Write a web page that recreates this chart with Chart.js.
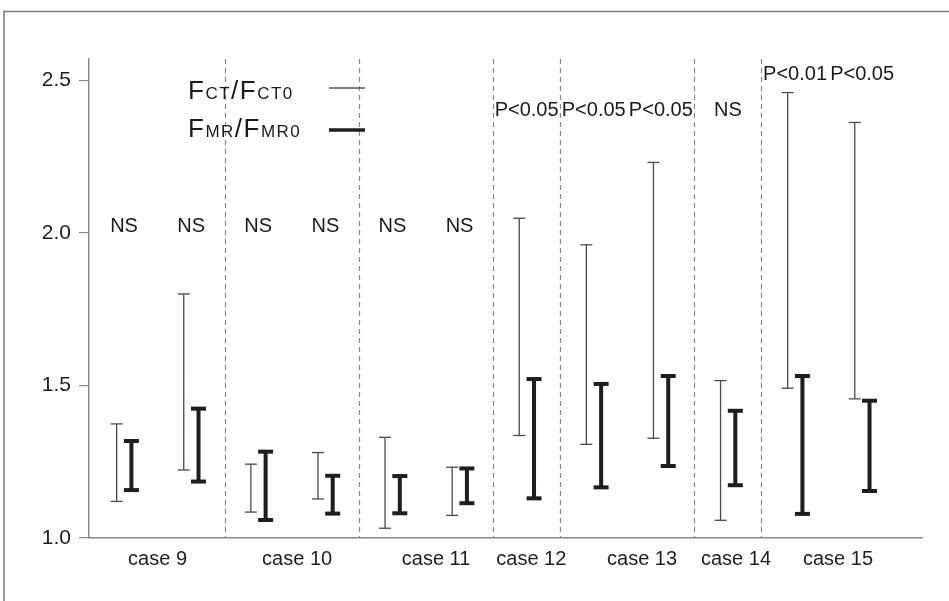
<!DOCTYPE html>
<html>
<head>
<meta charset="utf-8">
<script src="https://cdn.jsdelivr.net/npm/chart.js@4"></script>
<style>
  html, body { margin: 0; padding: 0; background: #fff; }
  #wrap { width: 949px; height: 601px; }
</style>
</head>
<body>
<div id="wrap"><canvas id="myChart" width="949" height="601"></canvas></div>
<script>
// data
const cases = ['case 9', 'case 10', 'case 11', 'case 12', 'case 13', 'case 14', 'case 15'];
const pairsPerCase = [2, 2, 2, 1, 2, 1, 2];

// FCT/FCT0 (thin bars)
const ctLow  = [1.12, 1.223, 1.085, 1.128, 1.032, 1.074, 1.336, 1.307, 1.327, 1.058, 1.491, 1.456];
const ctHigh = [1.374, 1.80, 1.242, 1.280, 1.330, 1.232, 2.048, 1.961, 2.231, 1.516, 2.460, 2.362];
// FMR/FMR0 (thick bars)
const mrLow  = [1.157, 1.185, 1.059, 1.080, 1.081, 1.114, 1.130, 1.166, 1.236, 1.173, 1.079, 1.154];
const mrHigh = [1.318, 1.424, 1.283, 1.204, 1.203, 1.228, 1.521, 1.505, 1.531, 1.417, 1.531, 1.450];

const sigLabels = ['NS', 'NS', 'NS', 'NS', 'NS', 'NS', 'P<0.05', 'P<0.05', 'P<0.05', 'NS', 'P<0.01', 'P<0.05'];
const yTicks = [1.0, 1.5, 2.0, 2.5];

// layout bits (not data)
const FONT = "'Liberation Sans', Arial, sans-serif";
const sigRowY = [2.02, 2.02, 2.02, 2.02, 2.02, 2.02, 2.40, 2.40, 2.40, 2.40, 2.52, 2.52];
const caseLabelAt = [0.5, 2.58, 4.65, 6.07, 7.72, 9.12, 10.64];
const pairShift = 0.11;

function barPoints(lows, highs, shift) {
  const pts = [];
  lows.forEach((lo, i) => {
    const x = i + shift;
    pts.push({x: x, y: lo}, {x: x, y: highs[i]}, {x: x, y: null});
  });
  return pts;
}

// where the dashed separators go (between cases)
const separators = [];
let slot = 0;
pairsPerCase.forEach((n, c) => {
  slot += n;
  if (c < pairsPerCase.length - 1) separators.push(slot - 0.5);
});

const extras = {
  id: 'extras',
  beforeDatasetsDraw(chart) {
    const ctx = chart.ctx;
    const x = chart.scales.x;
    ctx.save();
    // frame
    ctx.strokeStyle = '#7a7a7a';
    ctx.lineWidth = 1.5;
    ctx.beginPath();
    ctx.moveTo(4, 601);
    ctx.lineTo(4, 11.5);
    ctx.lineTo(949, 11.5);
    ctx.stroke();
    // separators
    ctx.strokeStyle = '#8a8a8a';
    ctx.lineWidth = 1.2;
    ctx.setLineDash([5, 4]);
    separators.forEach(s => {
      const px = Math.round(x.getPixelForValue(s)) + 0.5;
      ctx.beginPath();
      ctx.moveTo(px, chart.chartArea.top);
      ctx.lineTo(px, chart.chartArea.bottom);
      ctx.stroke();
    });
    ctx.restore();
  },
  afterDraw(chart) {
    const ctx = chart.ctx;
    const x = chart.scales.x, y = chart.scales.y;
    ctx.save();
    // significance labels
    ctx.fillStyle = '#1a1a1a';
    ctx.font = '20px ' + FONT;
    ctx.textAlign = 'center';
    ctx.textBaseline = 'middle';
    sigLabels.forEach((t, i) => {
      ctx.fillText(t, x.getPixelForValue(i), y.getPixelForValue(sigRowY[i]));
    });

    // legend
    const rows = [
      {parts: [['F', 1], ['CT', 0], ['/', 1], ['F', 1], ['CT', 0], ['0', 0]], base: 98.5, lineY: 88, lw: 1.3, col: '#555'},
      {parts: [['F', 1], ['MR', 0], ['/', 1], ['F', 1], ['MR', 0], ['0', 0]], base: 137, lineY: 130, lw: 3.5, col: '#1e1e1e'}
    ];
    ctx.textAlign = 'left';
    ctx.textBaseline = 'alphabetic';
    ctx.letterSpacing = '1.5px';
    rows.forEach(r => {
      let cx = 188;
      r.parts.forEach(p => {
        ctx.font = (p[1] ? '26px ' : '17px ') + FONT;
        ctx.fillText(p[0], cx, r.base);
        cx += ctx.measureText(p[0]).width;
      });
      ctx.strokeStyle = r.col;
      ctx.lineWidth = r.lw;
      ctx.beginPath();
      ctx.moveTo(329, r.lineY);
      ctx.lineTo(365, r.lineY);
      ctx.stroke();
    });
    ctx.restore();
  }
};

new Chart(document.getElementById('myChart'), {
  type: 'line',
  data: {
    datasets: [
      {
        label: 'FCT/FCT0',
        data: barPoints(ctLow, ctHigh, -pairShift),
        borderColor: '#4a4a4a',
        borderWidth: 1.3,
        pointStyle: 'line',
        pointRadius: 6,
        pointBorderWidth: 1.3,
        pointBorderColor: '#4a4a4a',
        spanGaps: false
      },
      {
        label: 'FMR/FMR0',
        data: barPoints(mrLow, mrHigh, pairShift),
        borderColor: '#1e1e1e',
        borderWidth: 4,
        pointStyle: 'line',
        pointRadius: 7.5,
        pointBorderWidth: 4,
        pointBorderColor: '#1e1e1e',
        spanGaps: false
      }
    ]
  },
  options: {
    responsive: false,
    animation: false,
    events: [],
    layout: { padding: { top: 59, right: 27, left: 0, bottom: 0 } },
    plugins: {
      legend: { display: false },
      tooltip: { enabled: false }
    },
    scales: {
      x: {
        type: 'linear',
        min: -0.522,
        max: 11.892,
        afterBuildTicks: s => { s.ticks = caseLabelAt.map(v => ({value: v})); },
        afterFit: s => { s.height = 63; },
        ticks: {
          callback: (v, i) => cases[i],
          color: '#1e1e1e',
          font: { family: FONT, size: 20 },
          padding: 1,
          maxRotation: 0,
          autoSkip: false
        },
        grid: { display: false },
        border: { display: true, color: '#8a8a8a', width: 1.5 }
      },
      y: {
        min: 1.0,
        max: 2.57,
        afterBuildTicks: s => { s.ticks = yTicks.map(v => ({value: v})); },
        afterFit: s => { s.width = 89; },
        ticks: {
          callback: v => Number(v).toFixed(1),
          color: '#1e1e1e',
          font: { family: FONT, size: 21 },
          padding: 8
        },
        grid: { drawOnChartArea: false, tickLength: 10, color: '#8a8a8a', lineWidth: 1.2 },
        border: { display: true, color: '#8a8a8a', width: 1.5 }
      }
    }
  },
  plugins: [extras]
});
</script>
</body>
</html>
